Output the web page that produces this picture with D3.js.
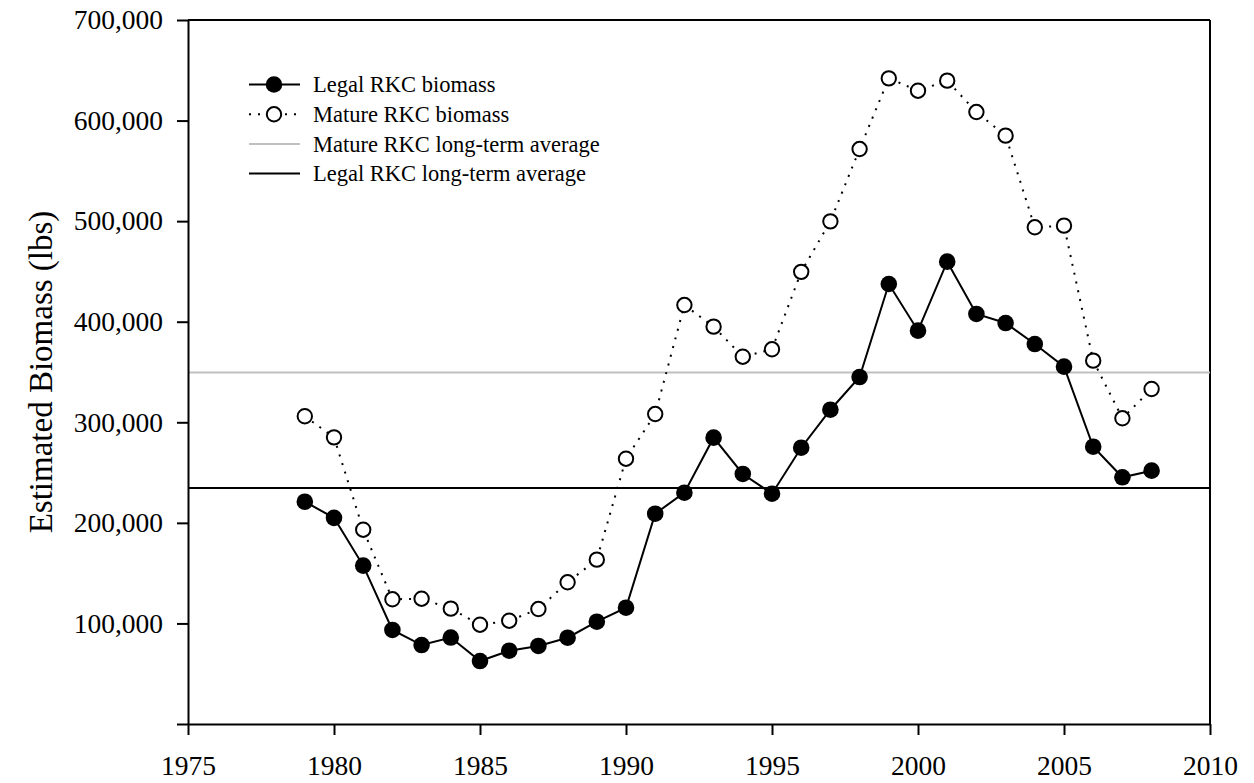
<!DOCTYPE html>
<html>
<head>
<meta charset="utf-8">
<script src="https://cdn.jsdelivr.net/npm/d3@7"></script>
<style>
  html, body { margin: 0; padding: 0; background: #fff; }
  svg { display: block; }
  text { font-family: "Liberation Serif", "Times New Roman", serif; fill: #000; }
</style>
</head>
<body>
<svg id="chart" width="1254" height="783"></svg>
<script>
// ---- data ----
const years = [1979,1980,1981,1982,1983,1984,1985,1986,1987,1988,1989,1990,1991,1992,1993,1994,1995,1996,1997,1998,1999,2000,2001,2002,2003,2004,2005,2006,2007,2008];
const legalBiomass = [221000,205000,157500,93500,78500,86000,62600,72900,77600,85800,101700,115600,209100,230000,284700,248600,229000,274700,312500,345000,437500,391100,459700,407700,398700,377800,355300,275700,245300,251900];
const matureBiomass = [306000,285000,193200,124000,124600,114700,98700,102700,114300,140900,163400,263800,308200,416600,395100,365200,372600,449600,499800,571700,642000,629700,639700,608500,585000,493900,495500,361300,304000,333100];
const matureAverage = 349500;
const legalAverage = 234700;
const xTicks = [1975,1980,1985,1990,1995,2000,2005,2010];
const yTicks = [0,100000,200000,300000,400000,500000,600000,700000];
const legendLabels = ["Legal RKC biomass","Mature RKC biomass","Mature RKC long-term average","Legal RKC long-term average"];
const yTitle = "Estimated Biomass (lbs)";

// ---- layout ----
const W = 1254, H = 783;
const m = {left: 188, top: 20, right: 44, bottom: 59};
const svg = d3.select("#chart");
const x = d3.scaleLinear().domain([1975, 2010]).range([m.left, W - m.right]);
const y = d3.scaleLinear().domain([0, 700000]).range([H - m.bottom, m.top]);
const fmt = d3.format(",");

// frame (top & right)
svg.append("line").attr("x1", x(1975)).attr("x2", x(2010)).attr("y1", y(700000)).attr("y2", y(700000))
  .attr("stroke", "#000").attr("stroke-width", 2);
svg.append("line").attr("x1", x(2010)).attr("x2", x(2010)).attr("y1", y(700000)).attr("y2", y(0))
  .attr("stroke", "#000").attr("stroke-width", 2);

// average lines
svg.append("line").attr("x1", x(1975)).attr("x2", x(2010)).attr("y1", y(matureAverage)).attr("y2", y(matureAverage))
  .attr("stroke", "#c0c0c0").attr("stroke-width", 2);
svg.append("line").attr("x1", x(1975)).attr("x2", x(2010)).attr("y1", y(legalAverage)).attr("y2", y(legalAverage))
  .attr("stroke", "#000").attr("stroke-width", 2);

// axes
const xAxis = d3.axisBottom(x).tickValues(xTicks).tickFormat(d3.format("d")).tickSizeInner(11).tickSizeOuter(0).tickPadding(20);
const yAxis = d3.axisLeft(y).tickValues(yTicks).tickFormat(d => d === 0 ? "" : fmt(d)).tickSizeInner(11).tickSizeOuter(0).tickPadding(14);

const gx = svg.append("g").attr("transform", `translate(0,${y(0)})`).call(xAxis);
const gy = svg.append("g").attr("transform", `translate(${x(1975)},0)`).call(yAxis);
[gx, gy].forEach(g => {
  g.select(".domain").attr("stroke", "#000").attr("stroke-width", 2);
  g.selectAll(".tick line").attr("stroke", "#000").attr("stroke-width", 2);
  g.selectAll(".tick text").attr("font-family", "Liberation Serif, Times New Roman, serif").attr("font-size", 27.5).attr("fill", "#000");
});

// y title
svg.append("text")
  .attr("transform", `translate(52,${(y(0) + y(700000)) / 2}) rotate(-90)`)
  .attr("text-anchor", "middle")
  .attr("font-size", 33)
  .text(yTitle);

// series lines
const idx = d3.range(years.length);
const matureLine = d3.line().x(i => x(years[i])).y(i => y(matureBiomass[i]));
const legalLine = d3.line().x(i => x(years[i])).y(i => y(legalBiomass[i]));

svg.append("path").attr("d", matureLine(idx)).attr("fill", "none")
  .attr("stroke", "#000").attr("stroke-width", 2).attr("stroke-dasharray", "2,7");
svg.append("path").attr("d", legalLine(idx)).attr("fill", "none")
  .attr("stroke", "#000").attr("stroke-width", 2);

svg.append("g").selectAll("circle").data(idx).join("circle")
  .attr("cx", i => x(years[i])).attr("cy", i => y(matureBiomass[i])).attr("r", 7.2)
  .attr("fill", "#fff").attr("stroke", "#000").attr("stroke-width", 2);
svg.append("g").selectAll("circle").data(idx).join("circle")
  .attr("cx", i => x(years[i])).attr("cy", i => y(legalBiomass[i])).attr("r", 8.3)
  .attr("fill", "#000");

// legend
const lg = svg.append("g");
const rowY = [84.5, 114.3, 144, 173.5];
const lx1 = 249, lx2 = 300, lcx = 274, tx = 313;
// row 0
lg.append("line").attr("x1", lx1).attr("x2", lx2).attr("y1", rowY[0]).attr("y2", rowY[0]).attr("stroke", "#000").attr("stroke-width", 2);
lg.append("circle").attr("cx", lcx).attr("cy", rowY[0]).attr("r", 8.3).attr("fill", "#000");
// row 1
lg.append("line").attr("x1", lx1).attr("x2", lx2).attr("y1", rowY[1]).attr("y2", rowY[1]).attr("stroke", "#000").attr("stroke-width", 2).attr("stroke-dasharray", "2,7");
lg.append("circle").attr("cx", lcx).attr("cy", rowY[1]).attr("r", 7.2).attr("fill", "#fff").attr("stroke", "#000").attr("stroke-width", 2);
// row 2
lg.append("line").attr("x1", lx1).attr("x2", lx2).attr("y1", rowY[2]).attr("y2", rowY[2]).attr("stroke", "#c0c0c0").attr("stroke-width", 2);
// row 3
lg.append("line").attr("x1", lx1).attr("x2", lx2).attr("y1", rowY[3]).attr("y2", rowY[3]).attr("stroke", "#000").attr("stroke-width", 2);
legendLabels.forEach((t, i) => {
  lg.append("text").attr("x", tx).attr("y", rowY[i]).attr("dy", "0.35em").attr("font-size", 22.5).text(t);
});
</script>
</body>
</html>
